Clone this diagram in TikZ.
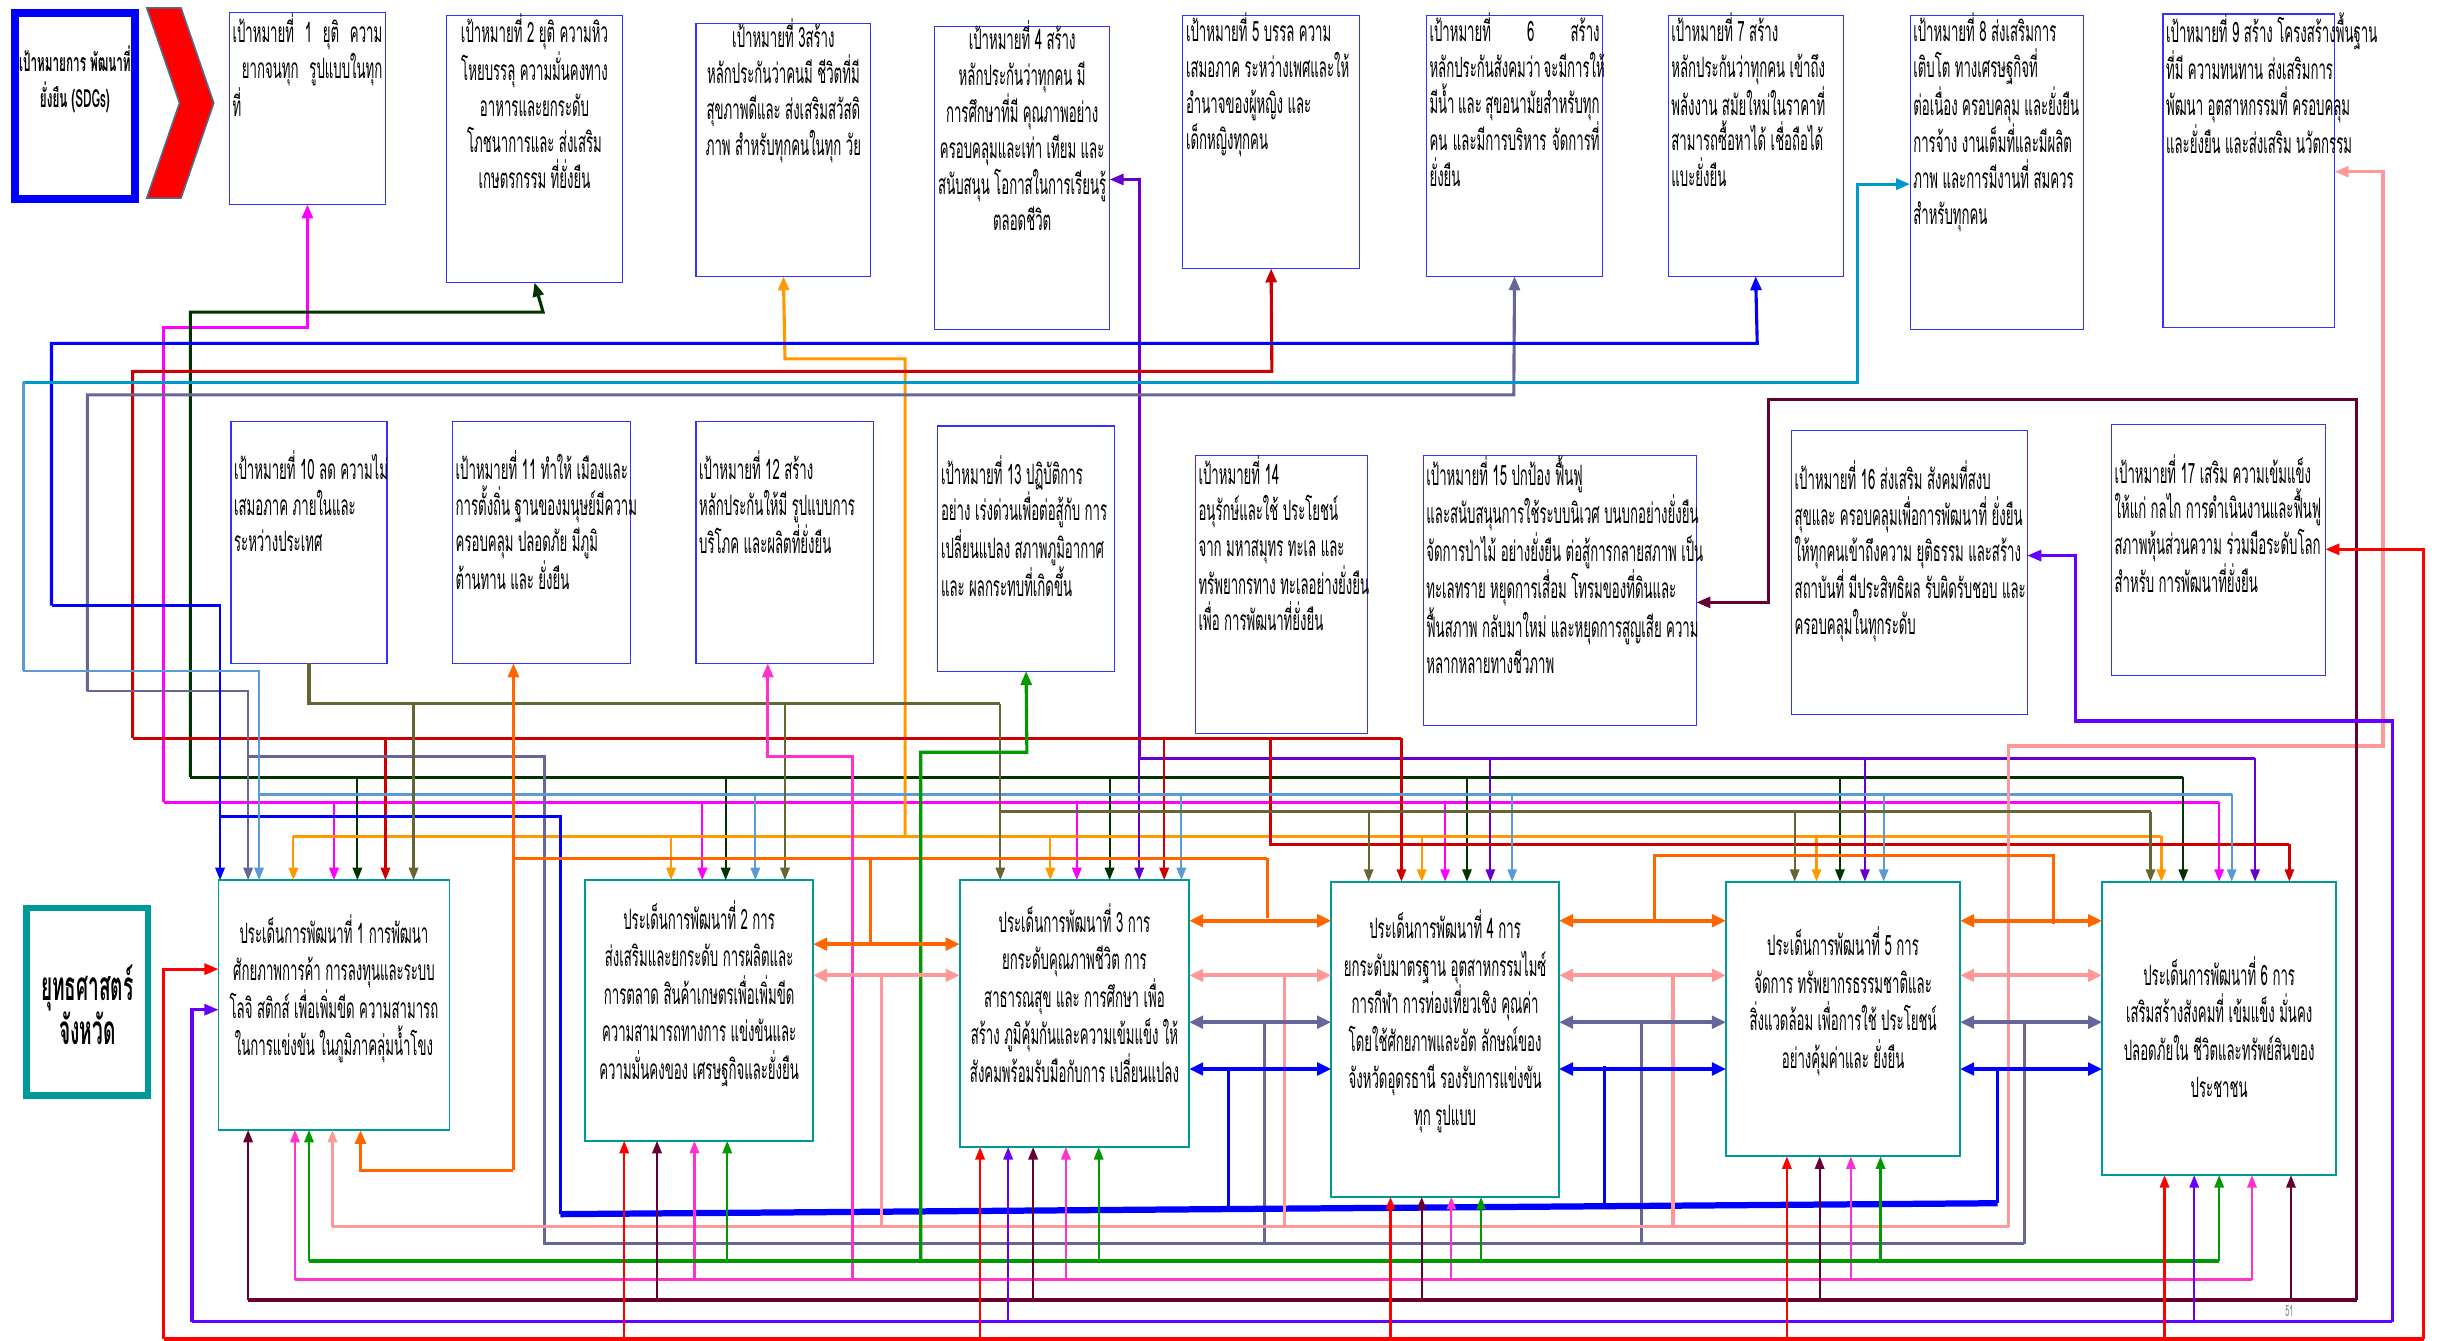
\documentclass[tikz,border=0pt]{standalone}
\usepackage{fontspec}
\setmainfont[Script=Thai,FakeStretch=0.47]{Loma}
\usetikzlibrary{arrows.meta}

\definecolor{gblue}{HTML}{3333FF}
\definecolor{iteal}{HTML}{009999}
\definecolor{chevgray}{HTML}{4F6F8F}
\definecolor{cMag}{HTML}{FF00FF}
\definecolor{cDkG}{HTML}{003300}
\definecolor{cOr}{HTML}{FF9900}
\definecolor{cPur}{HTML}{6600CC}
\definecolor{cDR}{HTML}{CC0000}
\definecolor{cSl}{HTML}{666699}
\definecolor{cBl}{HTML}{0000FF}
\definecolor{cCy}{HTML}{0099CC}
\definecolor{cLB}{HTML}{5B9BD5}
\definecolor{cSa}{HTML}{FF9999}
\definecolor{cOl}{HTML}{666633}
\definecolor{cDO}{HTML}{FF6600}
\definecolor{cPk}{HTML}{FF33CC}
\definecolor{cGr}{HTML}{009900}
\definecolor{cMa}{HTML}{660033}
\definecolor{cVi}{HTML}{6600FF}
\definecolor{cRe}{HTML}{FF0000}

\newcommand{\gfont}{\fontsize{18}{23}\selectfont}
\newcommand{\pfont}{\fontsize{18}{24}\selectfont}
% width, height, offset of first line, text
\newcommand{\boxtxt}[4]{\parbox[c][#2pt][t]{\dimexpr#1pt-4pt\relax}{\vspace*{\dimexpr#3pt-11pt\relax}#4}}
\newcommand{\rw}[1]{\mbox{#1}}
\newcommand{\jw}[1]{\makebox[\linewidth][s]{#1}}

\tikzset{
  wire/.style={line width=2pt},
  tip/.style={-{Triangle[length=9pt,width=7pt]}},
  drop/.style={line width=1.4pt,-{Triangle[length=8pt,width=6pt]}},
  dbl/.style={line width=2.5pt,{Triangle[length=9pt,width=8pt]}-{Triangle[length=9pt,width=8pt]}},
  goal/.style={draw=gblue,line width=0.7pt,fill=white,anchor=north west,
    inner xsep=2pt,inner ysep=0pt,outer sep=0pt,font=\gfont},
  issue/.style={draw=iteal,line width=1.2pt,fill=white,anchor=north west,
    inner xsep=2pt,inner ysep=0pt,outer sep=0pt,font=\pfont},
}

\begin{document}
\begin{tikzpicture}[x=1pt,y=-1pt]
\useasboundingbox (0,0) rectangle (1568,859);

% ---- boxes (placed first so the wires can refer to them) ----
\node[goal] (g1) at (147,8) {\boxtxt{100}{123}{12}{\jw{เป้าหมายที่ 1 ยุติ ความ}\\ \jw{\hspace*{6pt}ยากจนทุก รูปแบบในทุก}\\ \rw{ที่}}};
\node[goal] (g2) at (286,10) {\boxtxt{113}{171}{10}{\centering \rw{เป้าหมายที่ 2 ยุติ ความหิว}\\ \rw{โหยบรรลุ ความมั่นคงทาง}\\ \rw{อาหารและยกระดับ}\\ \rw{โภชนาการและ ส่งเสริม}\\ \rw{เกษตรกรรม ที่ยั่งยืน}}};
\node[goal] (g3) at (446,15) {\boxtxt{112}{162}{8}{\centering \rw{เป้าหมายที่ 3สร้าง}\\ \rw{หลักประกันว่าคนมี ชีวิตที่มี}\\ \rw{สุขภาพดีและ ส่งเสริมสวัสดิ}\\ \rw{ภาพ สำหรับทุกคนในทุก วัย}}};
\node[goal] (g4) at (599,17) {\boxtxt{112}{194}{7}{\centering \rw{เป้าหมายที่ 4 สร้าง}\\ \rw{หลักประกันว่าทุกคน มี}\\ \rw{การศึกษาที่มี คุณภาพอย่าง}\\ \rw{ครอบคลุมและเท่า เทียม และ}\\ \rw{สนับสนุน โอกาสในการเรียนรู้}\\ \rw{ตลอดชีวิต}}};
\node[goal] (g5) at (758,10) {\boxtxt{113}{162}{9}{\rw{เป้าหมายที่ 5 บรรล ความ}\\ \rw{เสมอภาค ระหว่างเพศและให้}\\ \rw{อำนาจของผู้หญิง และ}\\ \rw{เด็กหญิงทุกคน}}};
\node[goal] (g6) at (914,10) {\boxtxt{113}{167}{9}{\jw{เป้าหมายที่ 6 สร้าง}\\ \jw{หลักประกันสังคมว่า จะมีการให้}\\ \jw{มีน้ำ และ สุขอนามัยสำหรับทุก}\\ \jw{คน และมีการบริหาร จัดการที่}\\ \rw{ยั่งยืน}}};
\node[goal] (g7) at (1069,10) {\boxtxt{112}{167}{9}{\rw{เป้าหมายที่ 7 สร้าง}\\ \rw{หลักประกันว่าทุกคน เข้าถึง}\\ \rw{พลังงาน สมัยใหม่ในราคาที่}\\ \rw{สามารถซื้อหาได้ เชื่อถือได้}\\ \rw{แบะยั่งยืน}}};
\node[goal] (g8) at (1224,10) {\boxtxt{111}{201}{9}{\rw{เป้าหมายที่ 8 ส่งเสริมการ}\\ \rw{เติบโต ทางเศรษฐกิจที่}\\ \rw{ต่อเนื่อง ครอบคลุม และยั่งยืน}\\ \rw{การจ้าง งานเต็มที่และมีผลิต}\\ \rw{ภาพ และการมีงานที่ สมควร}\\ \rw{สำหรับทุกคน}}};
\node[goal] (g9) at (1386,9) {\boxtxt{110}{201}{10}{\rw{เป้าหมายที่ 9 สร้าง โครงสร้างพื้นฐาน}\\ \rw{ที่มี ความทนทาน ส่งเสริมการ}\\ \rw{พัฒนา อุตสาหกรรมที่ ครอบคลุม}\\ \rw{และยั่งยืน และส่งเสริม นวัตกรรม}}};

\node[goal] (g10) at (148,270) {\boxtxt{100}{155}{30}{\rw{เป้าหมายที่ 10 ลด ความไม่}\\ \rw{เสมอภาค ภายในและ}\\ \rw{ระหว่างประเทศ}}};
\node[goal] (g11) at (290,270) {\boxtxt{114}{155}{30}{\rw{เป้าหมายที่ 11 ทำให้ เมืองและ}\\ \rw{การตั้งถิ่น ฐานของมนุษย์มีความ}\\ \rw{ครอบคลุม ปลอดภัย มีภูมิ}\\ \rw{ต้านทาน และ ยั่งยืน}}};
\node[goal] (g12) at (446,270) {\boxtxt{114}{155}{30}{\rw{เป้าหมายที่ 12 สร้าง}\\ \rw{หลักประกันให้มี รูปแบบการ}\\ \rw{บริโภค และผลิตที่ยั่งยืน}}};
\node[goal] (g13) at (601,273) {\boxtxt{113}{157}{30}{\rw{เป้าหมายที่ 13 ปฏิบัติการ}\\ \rw{อย่าง เร่งด่วนเพื่อต่อสู้กับ การ}\\ \rw{เปลี่ยนแปลง สภาพภูมิอากาศ}\\ \rw{และ ผลกระทบที่เกิดขึ้น}}};
\node[goal] (g14) at (766,292) {\boxtxt{110}{178}{11}{\rw{เป้าหมายที่ 14}\\ \rw{อนุรักษ์และใช้ ประโยชน์}\\ \rw{จาก มหาสมุทร ทะเล และ}\\ \rw{ทรัพยากรทาง ทะเลอย่างยั่งยืน}\\ \rw{เพื่อ การพัฒนาที่ยั่งยืน}}};
\node[goal] (g15) at (912,292) {\boxtxt{175}{173}{11}{\rw{เป้าหมายที่ 15 ปกป้อง ฟื้นฟู}\\ \rw{และสนับสนุนการใช้ระบบนิเวศ บนบกอย่างยั่งยืน}\\ \rw{จัดการป่าไม้ อย่างยั่งยืน ต่อสู้การกลายสภาพ เป็น}\\ \rw{ทะเลทราย หยุดการเสื่อม โทรมของที่ดินและ}\\ \rw{ฟื้นสภาพ กลับมาใหม่ และหยุดการสูญเสีย ความ}\\ \rw{หลากหลายทางชีวภาพ}}};
\node[goal] (g16) at (1148,276) {\boxtxt{151}{182}{30}{\rw{เป้าหมายที่ 16 ส่งเสริม สังคมที่สงบ}\\ \rw{สุขและ ครอบคลุมเพื่อการพัฒนาที่ ยั่งยืน}\\ \rw{ให้ทุกคนเข้าถึงความ ยุติธรรม และสร้าง}\\ \rw{สถาบันที่ มีประสิทธิผล รับผิดรับชอบ และ}\\ \rw{ครอบคลุมในทุกระดับ}}};
\node[goal] (g17) at (1353,272) {\boxtxt{137}{161}{30}{\rw{เป้าหมายที่ 17 เสริม ความเข้มแข็ง}\\ \rw{ให้แก่ กลไก การดำเนินงานและฟื้นฟู}\\ \rw{สภาพหุ้นส่วนความ ร่วมมือระดับโลก}\\ \rw{สำหรับ การพัฒนาที่ยั่งยืน}}};

\node[issue] (p1) at (140,564) {\boxtxt{148}{160}{33}{\centering \rw{ประเด็นการพัฒนาที่ 1 การพัฒนา}\\ \rw{ศักยภาพการค้า การลงทุนและระบบ}\\ \rw{โลจิ สติกส์ เพื่อเพิ่มขีด ความสามารถ}\\ \rw{ในการแข่งขัน ในภูมิภาคลุ่มน้ำโขง}}};
\node[issue] (p2) at (375,564) {\boxtxt{146}{167}{24}{\centering \rw{ประเด็นการพัฒนาที่ 2 การ}\\ \rw{ส่งเสริมและยกระดับ การผลิตและ}\\ \rw{การตลาด สินค้าเกษตรเพื่อเพิ่มขีด}\\ \rw{ความสามารถทางการ แข่งขันและ}\\ \rw{ความมั่นคงของ เศรษฐกิจและยั่งยืน}}};
\node[issue] (p3) at (615,564) {\boxtxt{147}{171}{26}{\centering \rw{ประเด็นการพัฒนาที่ 3 การ}\\ \rw{ยกระดับคุณภาพชีวิต การ}\\ \rw{สาธารณสุข และ การศึกษา เพื่อ}\\ \rw{สร้าง ภูมิคุ้มกันและความเข้มแข็ง ให้}\\ \rw{สังคมพร้อมรับมือกับการ เปลี่ยนแปลง}}};
\node[issue] (p4) at (853,565) {\boxtxt{146}{202}{29}{\centering \rw{ประเด็นการพัฒนาที่ 4 การ}\\ \rw{ยกระดับมาตรฐาน อุตสาหกรรมไมซ์}\\ \rw{การกีฬา การท่องเที่ยวเชิง คุณค่า}\\ \rw{โดยใช้ศักยภาพและอัต ลักษณ์ของ}\\ \rw{จังหวัดอุดรธานี รองรับการแข่งขัน}\\ \rw{ทุก รูปแบบ}}};
\node[issue] (p5) at (1106,565) {\boxtxt{150}{176}{40}{\centering \rw{ประเด็นการพัฒนาที่ 5 การ}\\ \rw{จัดการ ทรัพยากรธรรมชาติและ}\\ \rw{สิ่งแวดล้อม เพื่อการใช้ ประโยชน์}\\ \rw{อย่างคุ้มค่าและ ยั่งยืน}}};
\node[issue] (p6) at (1347,565) {\boxtxt{150}{188}{59}{\centering \rw{ประเด็นการพัฒนาที่ 6 การ}\\ \rw{เสริมสร้างสังคมที่ เข้มแข็ง มั่นคง}\\ \rw{ปลอดภัยใน ชีวิตและทรัพย์สินของ}\\ \rw{ประชาชน}}};

% ---- wires, one colour per goal ----
% goal 1
\draw[wire,cMag,tip] (105,514) |- (197,210) -- (g1.south);
\draw[wire,cMag] (105,514) -- (1422,514);
\foreach \x/\b in {214/p1,450/p2,690/p3,926/p4,1422/p6}
  \draw[drop,cMag] (\x,514) -- (\x,0 |- \b.north);
% goal 2
\draw[wire,cDkG,tip] (122,498) |- (348,200) -- (g2.south);
\draw[wire,cDkG] (122,498) -- (1399,498);
\foreach \x/\b in {229/p1,465/p2,711/p3,940/p4,1179/p5,1399/p6}
  \draw[drop,cDkG] (\x,498) -- (\x,0 |- \b.north);
% goal 3
\draw[wire,cOr,tip] (580,536) |- (503,230) -- (g3.south);
\draw[wire,cOr] (188,536) -- (1385,536);
\foreach \x/\b in {188/p1,430/p2,673/p3,911/p4,1164/p5,1385/p6}
  \draw[drop,cOr] (\x,536) -- (\x,0 |- \b.north);
% goal 4
\draw[wire,cPur,tip] (730,486) -- (730,115) -- (g4.east |- 0,115);
\draw[wire,cPur] (730,486) -- (1445,486);
\foreach \x/\b in {730/p3,955/p4,1195/p5,1445/p6}
  \draw[drop,cPur] (\x,486) -- (\x,0 |- \b.north);
% goal 5
\draw[wire,cDR,tip] (85,473) |- (815,238) -- (g5.south);
\draw[wire,cDR] (85,473) -- (898,473);
\draw[wire,cDR] (814,473) |- (1467,541);
\foreach \x/\y/\b in {247/473/p1,746/473/p3,898/473/p4,1467/541/p6}
  \draw[drop,cDR] (\x,\y) -- (\x,0 |- \b.north);
% goal 6
\draw[wire,cSl,tip] (56,443) |- (970,253) -- (g6.south);
\draw[drop,cSl] (56,443) -| (159,0 |- p1.north);
\draw[wire,cSl] (159,485) -| (349,797) -- (1297,797);
\foreach \x in {810,1052,1297}
  \draw[wire,cSl] (\x,797) -- (\x,655);
% goal 7
\draw[wire,cBl,tip] (33,388) |- (1126,220) -- (g7.south);
\draw[drop,cBl] (33,388) -| (141,0 |- p1.north);
\draw[wire,cBl] (141,523) -| (359,778);
\draw[cBl,line width=4pt] (359,778) -- (1280,771);
\foreach \x/\y/\z in {787/686/775,1028/683/773,1280/686/771}
  \draw[wire,cBl] (\x,\y) -- (\x,\z);
% goal 8
\draw[wire,cCy,tip] (15,245) -- (1190,245) |- (g8.west |- 0,118);
\draw[wire,cLB] (15,245) -- (15,430);
\draw[drop,cLB] (15,430) -| (166,0 |- p1.north);
\draw[wire,cLB] (166,509) -- (1430,509);
\foreach \x/\b in {484/p2,757/p3,969/p4,1207/p5,1430/p6}
  \draw[drop,cLB] (\x,509) -- (\x,0 |- \b.north);
% goal 9
\draw[wire,cSa,tip] (1287,786) |- (1527,478) |- (g9.east |- 0,110);
\draw[wire,cSa] (213,786) -- (1287,786);
\draw[drop,cSa] (213,786) -- (213,0 |- p1.south);
\foreach \x in {565,823,1072}
  \draw[wire,cSa] (\x,786) -- (\x,625);
% goal 10
\draw[wire,cOl] (g10.south) |- (641,451);
\draw[wire,cOl] (641,520) -- (1378,520);
\foreach \x/\y/\b in {265/451/p1,503/451/p2,641/451/p3,877/520/p4,1150/520/p5,1378/520/p6}
  \draw[drop,cOl] (\x,\y) -- (\x,0 |- \b.north);
% goal 11
\draw[wire,cDO,tip] (329,750) -- (329,0 |- g11.south);
\draw[wire,cDO,tip] (329,750) -| (231,0 |- p1.south);
\draw[wire,cDO] (329,550) -- (812,550);
\draw[wire,cDO] (558,550) -- (558,605);
\draw[wire,cDO] (812,550) -- (812,588);
\draw[wire,cDO] (1060,590) |- (1316,548) -- (1316,592);
% goal 12
\draw[wire,cPk,tip] (546,820) |- (492,485) -- (492,0 |- g12.south);
\draw[wire,cPk] (189,820) -- (1443,820);
\foreach \x/\b in {189/p1,445/p2,683/p3,930/p4,1186/p5,1443/p6}
  \draw[drop,cPk] (\x,820) -- (\x,0 |- \b.south);
% goal 13
\draw[wire,cGr,tip] (590,808) |- (658,482) -- (g13.south);
\draw[wire,cGr] (198,808) -- (1422,808);
\foreach \x/\b in {198/p1,466/p2,704/p3,949/p4,1205/p5,1422/p6}
  \draw[drop,cGr] (\x,808) -- (\x,0 |- \b.south);
% goal 15
\draw[wire,cMa,tip] (1510,833) |- (1133,256) |- (g15.east |- 0,386);
\draw[wire,cMa] (159,833) -- (1510,833);
\foreach \x/\b in {159/p1,421/p2,662/p3,911/p4,1166/p5,1468/p6}
  \draw[drop,cMa] (\x,833) -- (\x,0 |- \b.south);
% goal 16
\draw[wire,cVi,tip] (1533,847) |- (1330,462) |- (g16.east |- 0,356);
\draw[wire,cVi] (123,847) -- (1533,847);
\draw[wire,cVi,tip] (123,847) |- (p1.west |- 0,647);
\foreach \x/\b in {646/p3,1406/p6}
  \draw[drop,cVi] (\x,847) -- (\x,0 |- \b.south);
% goal 17
\draw[wire,cRe,tip] (1553,858) |- (g17.east |- 0,352);
\draw[wire,cRe] (105,858) -- (1553,858);
\draw[wire,cRe,tip] (105,858) |- (p1.west |- 0,621);
\foreach \x/\b in {400/p2,628/p3,891/p4,1145/p5,1387/p6}
  \draw[drop,cRe] (\x,858) -- (\x,0 |- \b.south);

% links between neighbouring issues
\draw[dbl,cDO] (p2.east |- 0,605) -- (p3.west |- 0,605);
\draw[dbl,cSa] (p2.east |- 0,625) -- (p3.west |- 0,625);
\foreach \a/\b in {p3/p4,p4/p5,p5/p6} {
  \draw[dbl,cDO] (\a.east |- 0,590) -- (\b.west |- 0,590);
  \draw[dbl,cSa] (\a.east |- 0,625) -- (\b.west |- 0,625);
  \draw[dbl,cSl] (\a.east |- 0,655) -- (\b.west |- 0,655);
  \draw[dbl,cBl] (\a.east |- 0,685) -- (\b.west |- 0,685);
}

% ---- heading blocks ----
\node[draw=cBl,line width=5pt,anchor=north west,inner sep=0pt,
  font=\bfseries\fontsize{16}{23}\selectfont] (sdg) at (7,6)
  {\boxtxt{81}{119}{32}{\centering \rw{เป้าหมายการ พัฒนาที่}\\ \rw{ยั่งยืน (SDGs)}}};
\fill[cRe,draw=chevgray,line width=1pt] (94,5) -- (116,5) -- (137,66)
  -- (116,127) -- (94,127) -- (115,66) -- cycle;
\node[draw=iteal,line width=4pt,anchor=north west,inner sep=0pt,
  font=\bfseries\fontsize{26}{27}\selectfont] (strat) at (15,580)
  {\boxtxt{82}{120}{47}{\centering \rw{ยุทธศาสตร์}\\ \rw{จังหวัด}}};
\node[text=gray,font=\fontsize{10}{10}\selectfont] (pg) at (1467,840) {51};
\end{tikzpicture}
\end{document}
